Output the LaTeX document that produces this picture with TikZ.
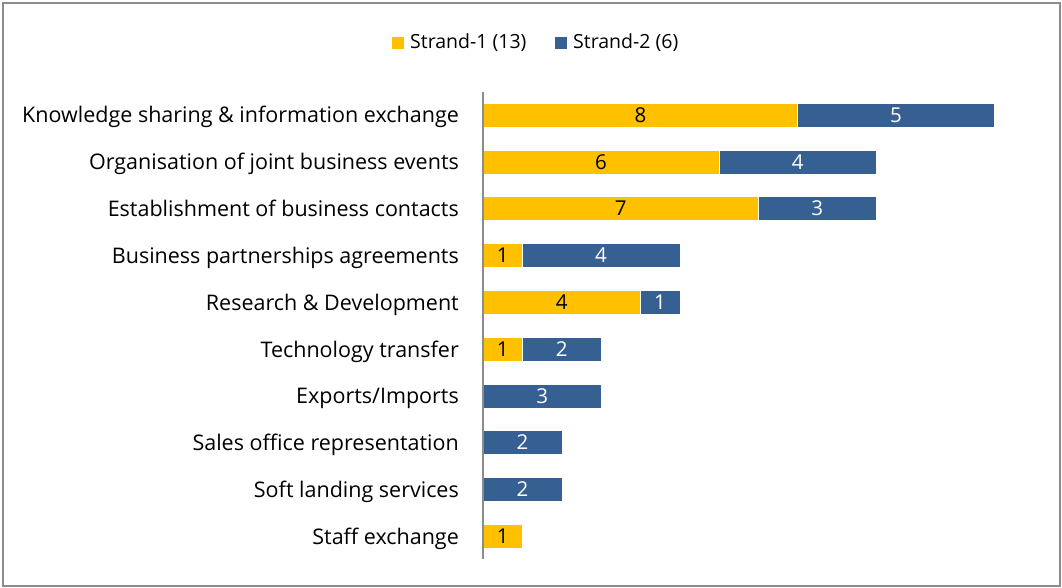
\documentclass[tikz,border=0pt]{standalone}
\usepackage{fontspec}
\setmainfont{Open Sans}
\definecolor{sy}{HTML}{FFC000}
\definecolor{sb}{HTML}{366092}
\definecolor{framegray}{HTML}{8C8C8C}
\definecolor{axisgray}{HTML}{8C8C8C}
\begin{document}
\begin{tikzpicture}[x=1pt,y=-1pt,
  lab/.style={anchor=base east, inner sep=0pt, font=\fontsize{21.5}{23}\selectfont, text=black},
  ybar/.style={fill=sy, draw=white, line width=0.4pt, anchor=west, inner sep=0pt, minimum height=24pt, text height=14.5pt, text depth=0pt, font=\fontsize{20.5}{22}\selectfont, text=black},
  bbar/.style={ybar, fill=sb, text=white},
  legsq/.style={inner sep=0pt, minimum size=12pt},
  legtxt/.style={anchor=west, inner sep=0pt, text height=13.5pt, text depth=3.5pt, font=\fontsize{19.5}{21}\selectfont}]
\useasboundingbox (0,0) rectangle (1062,588);
\draw[framegray, line width=2pt] (3,3) rectangle (1060,586);
% legend
\node[legsq, fill=sy] (ly) at (398,43) {};
\node[legtxt] (lyt) at (410,43.5) {Strand-1 (13)};
\node[legsq, fill=sb] (lb) at (561,43) {};
\node[legtxt] (lbt) at (573,43.5) {Strand-2 (6)};
% axis
\coordinate (atop) at (483,91.6);
\coordinate (abot) at (483,559);
\foreach \i/\txt/\a/\b in {
  1/Knowledge sharing \& information exchange/8/5,
  2/Organisation of joint business events/6/4,
  3/Establishment of business contacts/7/3,
  4/Business partnerships agreements/1/4,
  5/Research \& Development/4/1,
  6/Technology transfer/1/2,
  7/Exports\slash Imports/0/3,
  8/Sales office representation/0/2,
  9/Soft landing services/0/2,
  10/Staff exchange/1/0}{
  \pgfmathsetmacro{\yy}{115+(\i-1)*46.8}
  \node[lab] (l\i) at (459,\yy+8) {\txt};
  \ifnum\a>0
    \node[ybar, minimum width=\a*39.3pt] (y\i) at (483,\yy) {\a};
  \fi
  \ifnum\b>0
    \node[bbar, minimum width=\b*39.3pt] (b\i) at ({483+\a*39.3},\yy) {\b};
  \fi
}
\draw[axisgray, line width=1.5pt] (atop) -- (abot);
\end{tikzpicture}
\end{document}
